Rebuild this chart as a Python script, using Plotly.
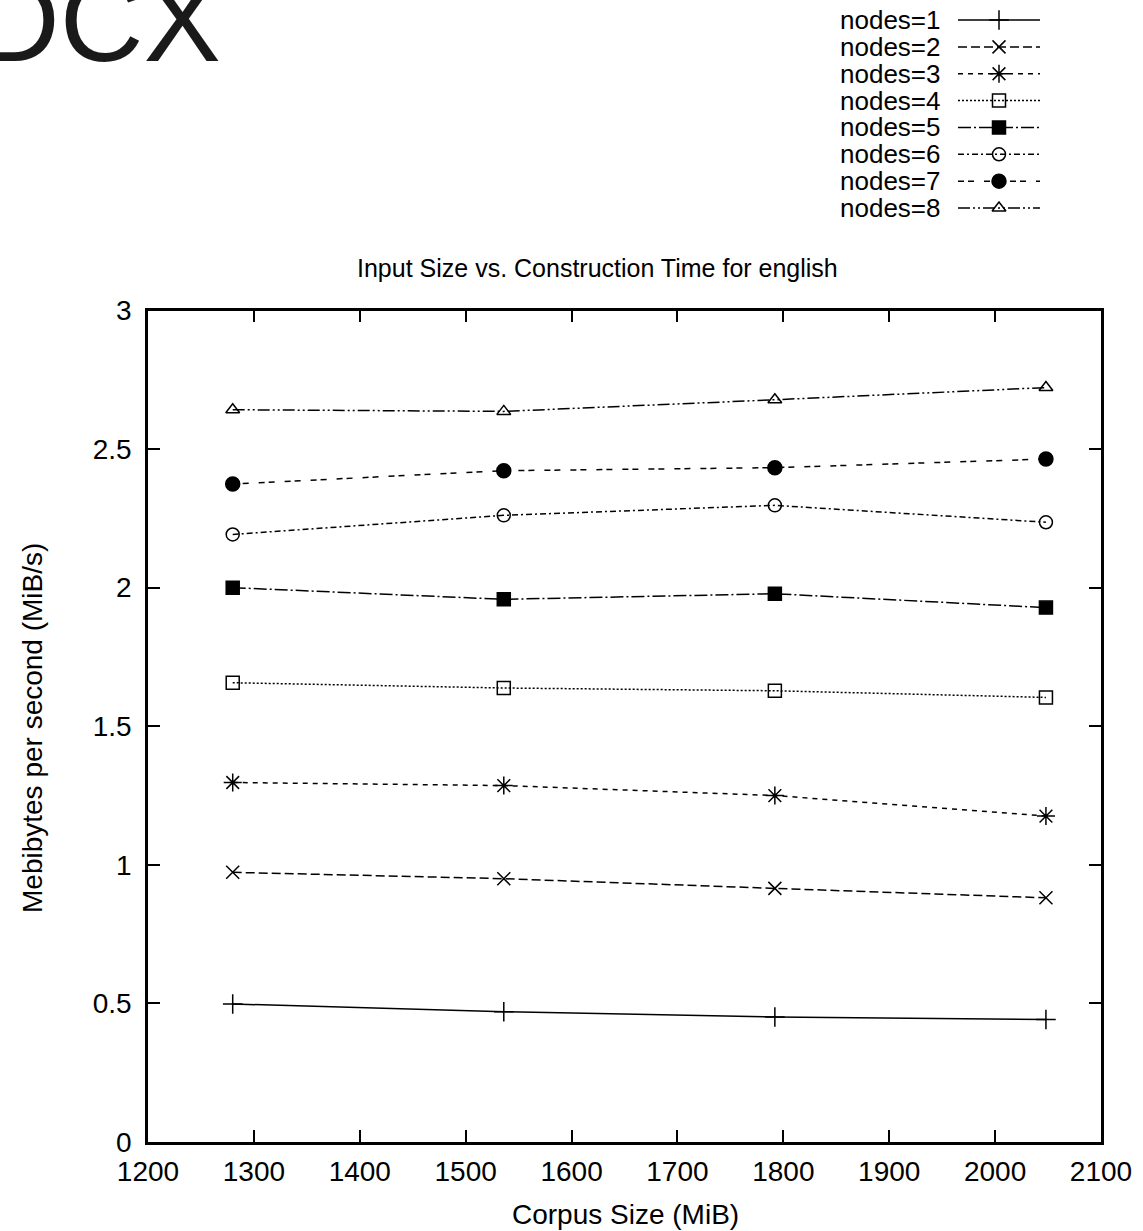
import plotly.graph_objects as go

# ---------------- data ----------------
corpus_size = [1280, 1536, 1792, 2048]
series_names = ["nodes=1", "nodes=2", "nodes=3", "nodes=4",
                "nodes=5", "nodes=6", "nodes=7", "nodes=8"]
nodes1 = [0.498, 0.470, 0.451, 0.442]
nodes2 = [0.973, 0.950, 0.915, 0.881]
nodes3 = [1.297, 1.286, 1.250, 1.176]
nodes4 = [1.657, 1.638, 1.628, 1.604]
nodes5 = [2.000, 1.958, 1.978, 1.928]
nodes6 = [2.192, 2.261, 2.297, 2.236]
nodes7 = [2.374, 2.422, 2.433, 2.464]
nodes8 = [2.642, 2.636, 2.678, 2.722]
series_values = [nodes1, nodes2, nodes3, nodes4, nodes5, nodes6, nodes7, nodes8]

x_ticks = [1200, 1300, 1400, 1500, 1600, 1700, 1800, 1900, 2000, 2100]
x_ticklabels = [str(v) for v in x_ticks]
y_ticks = [0, 0.5, 1, 1.5, 2, 2.5, 3]
y_ticklabels = ["0", "0.5", "1", "1.5", "2", "2.5", "3"]

# ---------------- styles ----------------
dashes = ["solid", "9px,4px", "5px,5px", "2px,2px",
          "13px,3px,2px,3px", "6px,3px,2px,3px", "6px,4px,6px,10px",
          "12px,3px,2px,3px,2px,3px"]
symbols = ["cross-thin-open", "x-thin-open", "asterisk-open", "square-open",
           "square", "circle-open", "circle", "triangle-up-open"]
sizes = [14, 13, 15, 13, 13, 13, 14, 12]

FONT = "Liberation Sans, Arial, Helvetica, sans-serif"
BLACK = "#000000"

W, H = 1143, 1231
ML, MR, MT, MB = 148, 42, 0, 89
PW = W - ML - MR          # paper width in px
PH = H - MT - MB          # paper height in px
PLOT_TOP_PX = 310.5


def px_x(px):
    return (px - ML) / PW


def px_y(py):
    return (H - MB - py) / PH


fig = go.Figure()

for name, vals, dsh, sym, sz in zip(series_names, series_values, dashes, symbols, sizes):
    fig.add_trace(go.Scatter(
        x=corpus_size, y=vals, name=name, mode="lines+markers",
        line=dict(color=BLACK, width=1.5, dash=dsh),
        marker=dict(symbol=sym, size=sz, color=BLACK,
                    line=dict(color=BLACK, width=1.5)),
        showlegend=False, xaxis="x", yaxis="y",
    ))

# legend samples (drawn on a hidden helper axis)
for i, (name, dsh, sym, sz) in enumerate(zip(series_names, dashes, symbols, sizes), start=1):
    fig.add_trace(go.Scatter(
        x=[0, 1], y=[i, i], mode="lines",
        line=dict(color=BLACK, width=1.5, dash=dsh),
        showlegend=False, xaxis="x2", yaxis="y2", hoverinfo="skip",
    ))
    fig.add_trace(go.Scatter(
        x=[0.5], y=[i], mode="markers",
        marker=dict(symbol=sym, size=sz, color=BLACK,
                    line=dict(color=BLACK, width=1.5)),
        showlegend=False, xaxis="x2", yaxis="y2", hoverinfo="skip",
    ))

annotations = []
for i, name in enumerate(series_names, start=1):
    annotations.append(dict(
        text=name, xref="paper", yref="y2", x=px_x(942), y=i,
        xanchor="right", yanchor="middle", showarrow=False,
        font=dict(family=FONT, size=26, color=BLACK),
    ))

annotations += [
    dict(text="Input Size vs. Construction Time for english",
         xref="paper", yref="paper", x=px_x(597.5), y=px_y(268),
         xanchor="center", yanchor="middle", showarrow=False,
         font=dict(family=FONT, size=25, color=BLACK)),
    dict(text="Corpus Size (MiB)",
         xref="paper", yref="paper", x=px_x(625), y=px_y(1214),
         xanchor="center", yanchor="middle", showarrow=False,
         font=dict(family=FONT, size=28, color=BLACK)),
    dict(text="Mebibytes per second (MiB/s)", textangle=-90,
         xref="paper", yref="paper", x=px_x(32), y=px_y(728),
         xanchor="center", yanchor="middle", showarrow=False,
         font=dict(family=FONT, size=28, color=BLACK)),
    dict(text="DCX",
         xref="paper", yref="paper", x=px_x(-26), y=px_y(21),
         xanchor="left", yanchor="middle", showarrow=False,
         font=dict(family=FONT, size=116, color="#1a1a1a")),
]

axis_common = dict(
    showline=True, linewidth=2.5, linecolor=BLACK, mirror="ticks",
    ticks="inside", ticklen=12, tickwidth=2, tickcolor=BLACK,
    showgrid=False, zeroline=False, automargin=False,
    tickfont=dict(family=FONT, size=28, color=BLACK),
)

fig.update_layout(
    width=W, height=H,
    margin=dict(l=ML, r=MR, t=MT, b=MB, pad=0, autoexpand=False),
    paper_bgcolor="white", plot_bgcolor="white",
    showlegend=False,
    xaxis=dict(range=[1200, 2100], tickvals=x_ticks, ticktext=x_ticklabels,
               domain=[0, 1], anchor="y", ticklabelstandoff=3, **axis_common),
    yaxis=dict(range=[0, 3], tickvals=y_ticks, ticktext=y_ticklabels,
               domain=[0, px_y(PLOT_TOP_PX)], anchor="x", ticklabelstandoff=8,
               **axis_common),
    xaxis2=dict(domain=[px_x(958), px_x(1040)], range=[0, 1], visible=False,
                anchor="y2", fixedrange=True, automargin=False),
    yaxis2=dict(domain=[px_y(221.4), px_y(6.6)], range=[8.5, 0.5], visible=False,
                anchor="x2", fixedrange=True, automargin=False),
    annotations=annotations,
)

fig.write_html("out.html", config={"displayModeBar": False},
               post_script="document.body.style.margin='0px';")
